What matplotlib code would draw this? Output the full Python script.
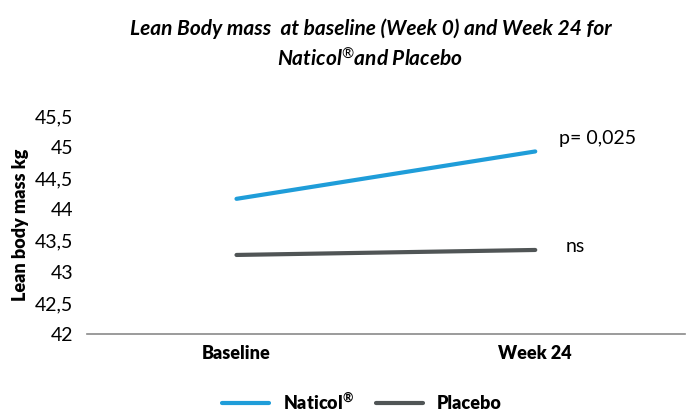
import matplotlib
matplotlib.use('Agg')
import matplotlib.pyplot as plt

# data
timepoints = ['Baseline', 'Week 24']
naticol = [44.17, 44.93]
placebo = [43.27, 43.35]
p_labels = ['p= 0,025', 'ns']
yticks = [42, 42.5, 43, 43.5, 44, 44.5, 45, 45.5]

plt.rcParams['font.family'] = ['Lato', 'DejaVu Sans']
plt.rcParams['mathtext.fontset'] = 'custom'
plt.rcParams['mathtext.rm'] = 'Lato'
plt.rcParams['mathtext.it'] = 'Lato:italic:bold'
plt.rcParams['mathtext.bf'] = 'Lato:bold'

fig = plt.figure(figsize=(6.86, 4.11), dpi=100)
ax = fig.add_axes([0.127, 0.187, 0.871, 0.531])

x = list(range(len(timepoints)))
ax.plot(x, naticol, color='#1F9DD9', linewidth=3, solid_capstyle='round', label=r'Naticol$\mathbf{^{®}}$')
ax.plot(x, placebo, color='#505556', linewidth=3, solid_capstyle='round', label='Placebo')

ax.set_xlim(-0.5, 1.5)
ax.set_ylim(42, 45.5)
ax.set_yticks(yticks)
ax.set_yticklabels([f'{v:g}'.replace('.', ',') for v in yticks], fontsize=14)
ax.set_xticks(x)
ax.set_xticklabels(timepoints, fontsize=13, fontweight='heavy')
ax.tick_params(axis='both', length=0, pad=8)
ax.tick_params(axis='y', pad=10)

for s in ['top', 'right', 'left']:
    ax.spines[s].set_visible(False)
ax.spines['bottom'].set_color('#8a8a8a')
ax.spines['bottom'].set_linewidth(1.2)

ax.set_ylabel('Lean body mass kg', fontsize=13, fontweight='heavy', labelpad=4)

# significance labels next to the week 24 points
ax.text(x[1] + 0.08, naticol[1] + 0.2, p_labels[0], fontsize=14, va='center', ha='left')
ax.text(x[1] + 0.1, placebo[1] + 0.05, p_labels[1], fontsize=14, va='center', ha='left')

fig.text(0.54, 0.893, 'Lean Body mass  at baseline (Week 0) and Week 24 for\n' + r'Naticol$\mathit{^{®}}$and Placebo',
         ha='center', va='center', fontsize=15, fontweight='bold', fontstyle='italic',
         linespacing=1.45)

ax.legend(loc='center', bbox_to_anchor=(0.46, -0.31), ncol=2, frameon=False,
          prop={'weight': 'heavy', 'size': 13}, handlelength=2.6, columnspacing=1.2,
          borderpad=0.2)

fig.savefig('out.png', dpi=100)
